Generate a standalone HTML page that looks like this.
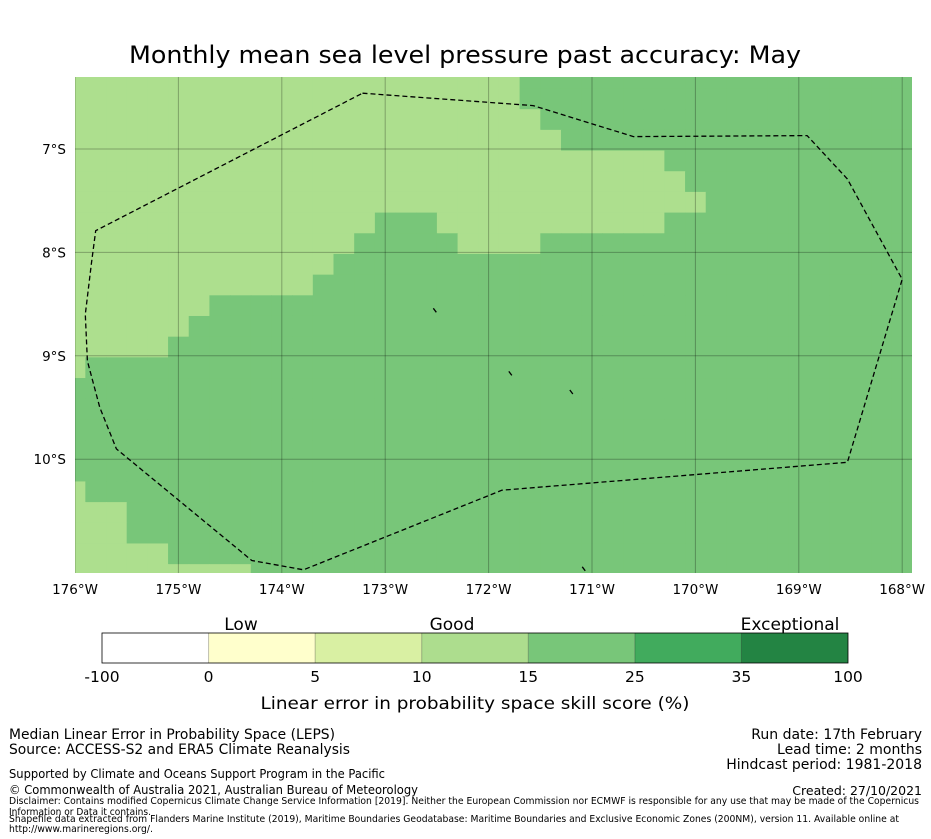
<!DOCTYPE html>
<html><head><meta charset="utf-8"><style>
body{margin:0;background:#fff;}
svg{display:block;font-family:"DejaVu Sans","Liberation Sans",sans-serif;}
</style></head><body>
<svg id="chart" width="931" height="839" viewBox="0 0 931 839" xmlns="http://www.w3.org/2000/svg">
<text x="465" y="63" font-size="24" textLength="672" lengthAdjust="spacingAndGlyphs" text-anchor="middle" fill="#000">Monthly mean sea level pressure past accuracy: May</text>
<defs><clipPath id="mapclip"><rect x="75" y="77" width="837" height="496"/></clipPath></defs>
<g id="map" clip-path="url(#mapclip)"></g>
<g id="axes"></g>
<g id="cbar"></g>
<text x="241" y="630" font-size="17" text-anchor="middle">Low</text>
<text x="452" y="630" font-size="17" text-anchor="middle">Good</text>
<text x="790" y="630" font-size="17" text-anchor="middle">Exceptional</text>
<text x="475" y="709" font-size="17" textLength="429" lengthAdjust="spacingAndGlyphs" text-anchor="middle">Linear error in probability space skill score (%)</text>
<g font-size="14" fill="#000">
<text x="9" y="739" textLength="326" lengthAdjust="spacingAndGlyphs">Median Linear Error in Probability Space (LEPS)</text>
<text x="9" y="754" textLength="341" lengthAdjust="spacingAndGlyphs">Source: ACCESS-S2 and ERA5 Climate Reanalysis</text>
<text x="922" y="739" text-anchor="end">Run date: 17th February</text>
<text x="922" y="754" text-anchor="end">Lead time: 2 months</text>
<text x="922" y="769" text-anchor="end">Hindcast period: 1981-2018</text>
<text x="9" y="778" font-size="12.5" textLength="376" lengthAdjust="spacingAndGlyphs">Supported by Climate and Oceans Support Program in the Pacific</text>
<text x="9" y="794" font-size="12.5" textLength="409" lengthAdjust="spacingAndGlyphs">© Commonwealth of Australia 2021, Australian Bureau of Meteorology</text>
<text x="922" y="795" font-size="12.5" text-anchor="end">Created: 27/10/2021</text>
<text x="9" y="804" font-size="9.5" textLength="910" lengthAdjust="spacingAndGlyphs">Disclaimer: Contains modified Copernicus Climate Change Service Information [2019]. Neither the European Commission nor ECMWF is responsible for any use that may be made of the Copernicus</text>
<text x="9" y="815" font-size="9.5" textLength="142" lengthAdjust="spacingAndGlyphs">Information or Data it contains.</text>
<text x="9" y="822" font-size="9.5" textLength="890" lengthAdjust="spacingAndGlyphs">Shapefile data extracted from Flanders Marine Institute (2019), Maritime Boundaries Geodatabase: Maritime Boundaries and Exclusive Economic Zones (200NM), version 11. Available online at</text>
<text x="9" y="832" font-size="9.5" textLength="144" lengthAdjust="spacingAndGlyphs">http://www.marineregions.org/.</text>
</g>
</svg>
<script>
// Grid data: each row is a string of category codes (L = 10-15, D = 15-25), 0.2° cells
const gridRows = [
"LLLLLLLLLLLLLLLLLLLLLLDDDDDDDDDDDDDDDDDDD",
"LLLLLLLLLLLLLLLLLLLLLLDDDDDDDDDDDDDDDDDDD",
"LLLLLLLLLLLLLLLLLLLLLLLDDDDDDDDDDDDDDDDDD",
"LLLLLLLLLLLLLLLLLLLLLLLLDDDDDDDDDDDDDDDDD",
"LLLLLLLLLLLLLLLLLLLLLLLLLLLLLDDDDDDDDDDDD",
"LLLLLLLLLLLLLLLLLLLLLLLLLLLLLLDDDDDDDDDDD",
"LLLLLLLLLLLLLLLLLLLLLLLLLLLLLLLDDDDDDDDDD",
"LLLLLLLLLLLLLLLDDDLLLLLLLLLLLDDDDDDDDDDDD",
"LLLLLLLLLLLLLLDDDDDLLLLDDDDDDDDDDDDDDDDDD",
"LLLLLLLLLLLLLDDDDDDDDDDDDDDDDDDDDDDDDDDDD",
"LLLLLLLLLLLLDDDDDDDDDDDDDDDDDDDDDDDDDDDDD",
"LLLLLLLDDDDDDDDDDDDDDDDDDDDDDDDDDDDDDDDDD",
"LLLLLLDDDDDDDDDDDDDDDDDDDDDDDDDDDDDDDDDDD",
"LLLLLDDDDDDDDDDDDDDDDDDDDDDDDDDDDDDDDDDDD",
"LDDDDDDDDDDDDDDDDDDDDDDDDDDDDDDDDDDDDDDDD",
"DDDDDDDDDDDDDDDDDDDDDDDDDDDDDDDDDDDDDDDDD",
"DDDDDDDDDDDDDDDDDDDDDDDDDDDDDDDDDDDDDDDDD",
"DDDDDDDDDDDDDDDDDDDDDDDDDDDDDDDDDDDDDDDDD",
"DDDDDDDDDDDDDDDDDDDDDDDDDDDDDDDDDDDDDDDDD",
"DDDDDDDDDDDDDDDDDDDDDDDDDDDDDDDDDDDDDDDDD",
"LDDDDDDDDDDDDDDDDDDDDDDDDDDDDDDDDDDDDDDDD",
"LLLDDDDDDDDDDDDDDDDDDDDDDDDDDDDDDDDDDDDDD",
"LLLDDDDDDDDDDDDDDDDDDDDDDDDDDDDDDDDDDDDDD",
"LLLLLDDDDDDDDDDDDDDDDDDDDDDDDDDDDDDDDDDDD",
"LLLLLLLLLDDDDDDDDDDDDDDDDDDDDDDDDDDDDDDDD"
];
const gridLon0 = -176.1; // west edge of first cell
const gridLat0 = -6.215; // north edge of first row
const cellDeg = 0.2;
const lonTicks = [-176,-175,-174,-173,-172,-171,-170,-169,-168];
const lonLabels = ["176°W","175°W","174°W","173°W","172°W","171°W","170°W","169°W","168°W"];
const latTicks = [-7,-8,-9,-10];
const latLabels = ["7°S","8°S","9°S","10°S"];
const eezLon = [-173.22,-171.57,-170.6,-168.92,-168.53,-168.0,-168.53,-171.87,-173.79,-174.29,-175.6,-175.76,-175.88,-175.9,-175.84,-175.8];
const eezLat = [-6.46,-6.58,-6.88,-6.87,-7.29,-8.26,-10.03,-10.3,-11.07,-10.98,-9.9,-9.5,-9.05,-8.6,-8.1,-7.79];
const islandLon = [-172.52,-171.79,-171.2,-171.08];
const islandLat = [-8.56,-9.17,-9.35,-11.06];
const cbBounds = ["-100","0","5","10","15","25","35","100"];
const cbColors = ["#ffffff","#ffffcc","#d9f0a3","#addd8e","#78c679","#41ab5d","#238443"];
const catColor = {L:"#addf8e", D:"#78c679"};

const pxPerDeg = 103.4;
function xScale(lon){ return 75 + (lon + 176) * pxPerDeg; }
function yScale(lat){ return 149 + (-7 - lat) * pxPerDeg; }
const NS = "http://www.w3.org/2000/svg";
function mk(tag, attrs, parent){ const e=document.createElementNS(NS,tag); for(const k in attrs) e.setAttribute(k,attrs[k]); parent.appendChild(e); return e; }

const map = document.getElementById('map');
gridRows.forEach((row, r) => {
  for (let c = 0; c < row.length; c++) {
    const lonW = gridLon0 + c*cellDeg, latN = gridLat0 - r*cellDeg;
    const x0 = xScale(lonW), x1 = xScale(lonW+cellDeg), y0 = yScale(latN), y1 = yScale(latN-cellDeg);
    const el = mk('rect', {x:x0, y:y0, width:x1-x0+0.5, height:y1-y0+0.5, fill:catColor[row[c]]}, map);
    
    
  }
});
lonTicks.forEach(lon => {
  const el = mk('line', {x1:xScale(lon), x2:xScale(lon), y1:77, y2:573, stroke:"rgba(0,0,0,0.28)", "stroke-width":1}, map);
  
  
});
latTicks.forEach(lat => {
  const el = mk('line', {x1:75, x2:912, y1:yScale(lat), y2:yScale(lat), stroke:"rgba(0,0,0,0.28)", "stroke-width":1}, map);
  
  
});
const pts = eezLon.map((lon,i)=> xScale(lon).toFixed(1)+","+yScale(eezLat[i]).toFixed(1)).join(" ");
const eez = mk('polygon', {points:pts, fill:"none", stroke:"#000", "stroke-width":1.3, "stroke-dasharray":"5,3"}, map);


islandLon.forEach((lon,i)=>{
  const x=xScale(lon), y=yScale(islandLat[i]);
  const el = mk('line', {x1:x-1.5, y1:y-2, x2:x+1.5, y2:y+2, stroke:"#000", "stroke-width":1.3}, map);
  
  
});

const axes = document.getElementById('axes');
lonTicks.forEach((lon,i)=>{
  const t = mk('text', {x:xScale(lon), y:594, "font-size":13.5, "text-anchor":"middle"}, axes);
  t.textContent = lonLabels[i];
  
  
});
latTicks.forEach((lat,i)=>{
  const t = mk('text', {x:66, y:yScale(lat)+5, "font-size":13.5, "text-anchor":"end"}, axes);
  t.textContent = latLabels[i];
  
  
});

const cbar = document.getElementById('cbar');
const cbX0 = 102, cbX1 = 848, cbW = (cbX1-cbX0)/cbColors.length;
cbColors.forEach((col,i)=>{
  const el = mk('rect', {x:cbX0+i*cbW, y:633, width:cbW, height:30, fill:col}, cbar);
  
  
  if (i>0) {
    const d = mk('line', {x1:cbX0+i*cbW, x2:cbX0+i*cbW, y1:633, y2:663, stroke:"rgba(0,0,0,0.25)"}, cbar);
    
    
  }
});
const frame = mk('rect', {x:cbX0, y:633, width:cbX1-cbX0, height:30, fill:"none", stroke:"#000", "stroke-width":0.8}, cbar);


cbBounds.forEach((b,i)=>{
  const t = mk('text', {x:cbX0+i*cbW, y:682, "font-size":15.5, "text-anchor":"middle"}, cbar);
  t.textContent = b;
  
  
});
</script>
</body></html>
